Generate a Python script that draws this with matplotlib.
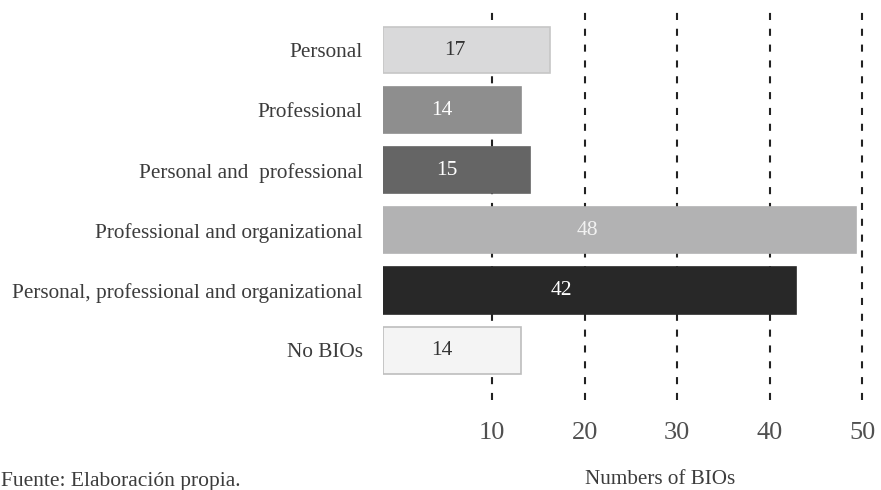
import matplotlib
matplotlib.use("Agg")
import matplotlib.pyplot as plt

plt.rcParams['font.family'] = ['Liberation Serif', 'DejaVu Serif']

categories = ["Personal", "Professional", "Personal and  professional",
              "Professional and organizational",
              "Personal, professional and organizational", "No BIOs"]
values = [17, 14, 15, 48, 42, 14]
tick_values = [10, 20, 30, 40, 50]
tick_labels = ["10", "20", "30", "40", "50"]
bar_colors = ["#d9d9da", "#8e8e8e", "#656565", "#b2b2b3", "#282828", "#f4f4f4"]
edge_colors = ["#c6c6c6", "#8e8e8e", "#656565", "#b2b2b3", "#282828", "#bdbdbd"]
label_colors = ["#333333", "#ffffff", "#ffffff", "#f2f2f2", "#ffffff", "#333333"]

W, H, DPI = 881, 490, 100
fig = plt.figure(figsize=(W / DPI, H / DPI), dpi=DPI)

left_px, right_px, top_px, bottom_px = 382.7, 880, 8, 400
ax = fig.add_axes([left_px / W, 1 - bottom_px / H, (right_px - left_px) / W,
                   (bottom_px - top_px) / H])

# grid / tick axis (scale of the numeric labels)
tick_zero_px, tick_scale = 399.7, 9.25
ax.set_xlim((left_px - tick_zero_px) / tick_scale, (right_px - tick_zero_px) / tick_scale)
ax.set_xticks(tick_values)
ax.set_xticklabels(tick_labels)
ax.tick_params(axis='x', length=0, pad=16, labelsize=19, labelcolor='#505050')
ax.grid(axis='x', color='#222222', linewidth=1.5, linestyle=(0, (3.4, 4.2)))
ax.set_axisbelow(True)

ypos = list(range(len(categories)))
spacing = 60.06
first_center = 50
ax.set_ylim((bottom_px - first_center) / spacing, (top_px - first_center) / spacing)
ax.set_yticks(ypos)
ax.set_yticklabels(categories)
ax.tick_params(axis='y', length=0, pad=14.5, labelsize=15.3, labelcolor='#3c3c3c')
for s in ax.spines.values():
    s.set_visible(False)

# bar axis
axb = ax.twiny()
bar_scale = 9.85
axb.set_xlim(0, (right_px - left_px) / bar_scale)
axb.set_ylim(ax.get_ylim())
axb.set_xticks([])
for s in axb.spines.values():
    s.set_visible(False)

axb.barh(ypos, values, height=0.775, color=bar_colors, edgecolor=edge_colors,
         linewidth=1.2)
for y, v, c in zip(ypos, values, label_colors):
    axb.text(v * 0.432, y, str(v), ha='center', va='center', color=c, fontsize=15.5)

fig.text(660 / W, 1 - 479 / H, "Numbers of BIOs", ha='center', va='center',
         fontsize=15.2, color='#3c3c3c')
fig.text(1 / W, 1 - 481 / H, "Fuente: Elaboración propia.", ha='left', va='center',
         fontsize=15.5, color='#3c3c3c')

fig.savefig("out.png", dpi=DPI)
